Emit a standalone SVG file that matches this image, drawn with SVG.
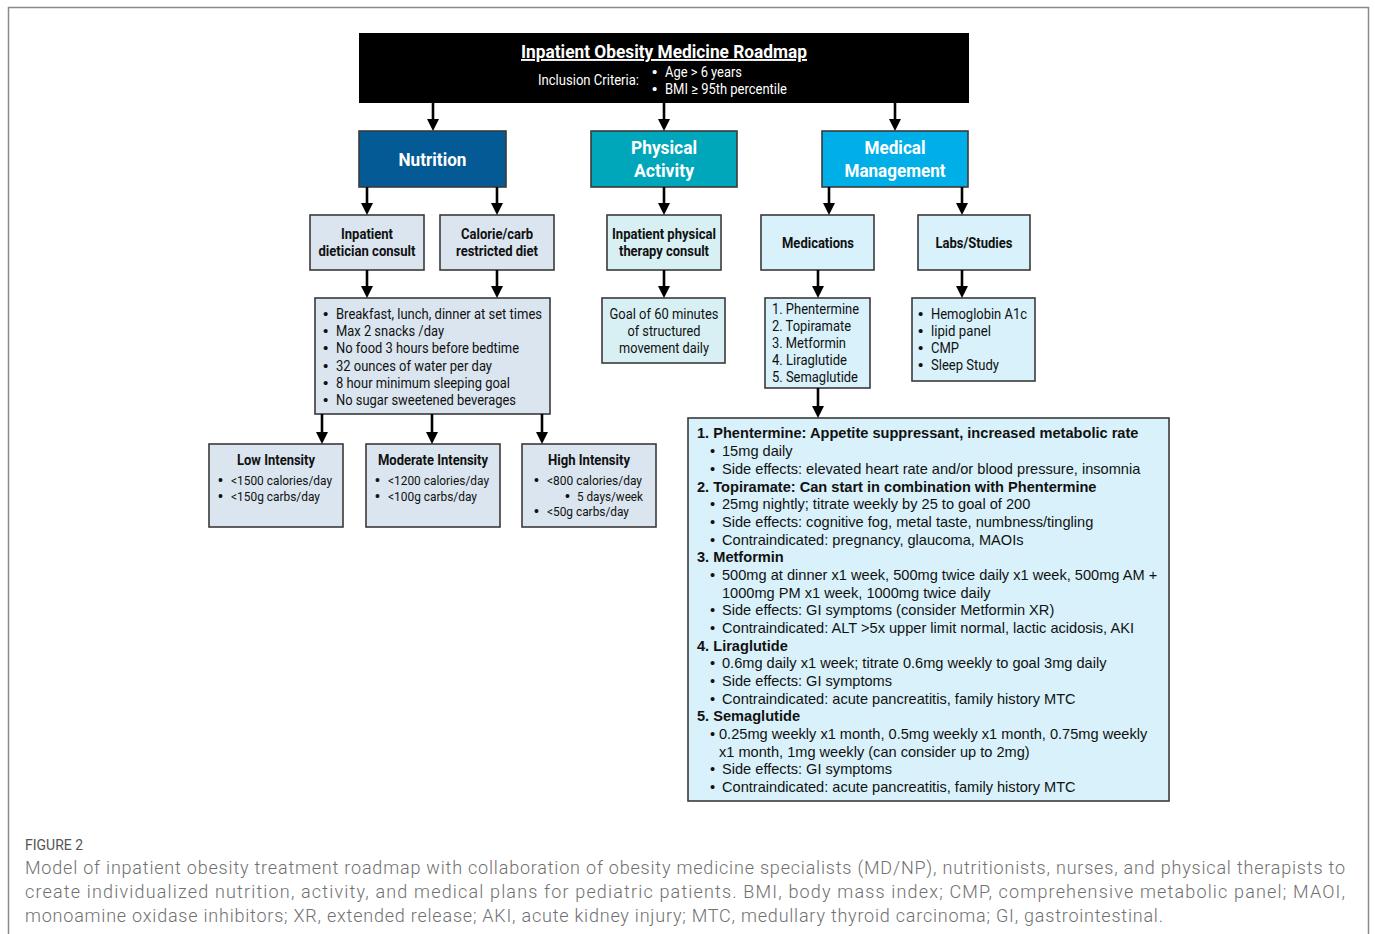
<svg xmlns="http://www.w3.org/2000/svg" width="1375" height="934" viewBox="0 0 1375 934">
<defs>
<marker id="ah" viewBox="0 0 12 12" refX="2" refY="6" markerWidth="12" markerHeight="12" markerUnits="userSpaceOnUse" orient="auto">
<path d="M0,0 L12,6 L0,12 z" fill="#000"/>
</marker>
<style>
.box{stroke:#3a3a3a;stroke-width:1.6}
.nut{fill:#dae5ef}
.phy{fill:#d8f0f4}
.med{fill:#d8f1fa}
.rc{font-family:Roboto,"Liberation Sans",sans-serif;font-size:14.5px;fill:#111}
.rb{font-family:Roboto,"Liberation Sans",sans-serif;font-size:14.5px;font-weight:bold;fill:#111}
.bl{font-family:"Liberation Sans",Arial,sans-serif;font-size:15px;fill:#111}
.hd{font-family:Roboto,"Liberation Sans",sans-serif;font-size:19px;font-weight:bold;fill:#fff}
.ar{font-family:"Liberation Sans",Arial,sans-serif;font-size:14.6px;fill:#111}
.arb{font-family:"Liberation Sans",Arial,sans-serif;font-size:14.6px;font-weight:bold;fill:#111}
.cap{font-family:Roboto,"Open Sans",sans-serif;font-size:18px;font-weight:300;fill:#707070}
.conn line{stroke:#000;stroke-width:2.6;marker-end:url(#ah)}
</style>
</defs>
<rect x="8.5" y="7.5" width="1360" height="950" fill="#fff" stroke="#8a8a8a" stroke-width="1.5"/>

<g id="title">
<rect x="359" y="33" width="610" height="70" fill="#000"/>
<text x="664" y="58" text-anchor="middle" class="hd" text-decoration="underline" textLength="286" lengthAdjust="spacingAndGlyphs">Inpatient Obesity Medicine Roadmap</text>
<text x="538" y="85" class="rc" style="fill:#fff" textLength="101" lengthAdjust="spacingAndGlyphs">Inclusion Criteria:</text>
<text x="652" y="77" class="bl" style="fill:#fff">•</text>
<text x="665" y="77" class="rc" style="fill:#fff" textLength="77" lengthAdjust="spacingAndGlyphs">Age &gt; 6 years</text>
<text x="652" y="94" class="bl" style="fill:#fff">•</text>
<text x="665" y="94" class="rc" style="fill:#fff" textLength="122" lengthAdjust="spacingAndGlyphs">BMI ≥ 95th percentile</text>
</g>

<g id="nutrition">
<rect x="359" y="131" width="147" height="56" fill="#035a95" class="box"/>
<text x="432.5" y="166" text-anchor="middle" class="hd" style="font-size:18.5px" textLength="68" lengthAdjust="spacingAndGlyphs">Nutrition</text>
</g>
<g id="physical-activity">
<rect x="591" y="131" width="146" height="56" fill="#00a6ba" class="box"/>
<text x="664" y="154" text-anchor="middle" class="hd" style="font-size:18.5px" textLength="66" lengthAdjust="spacingAndGlyphs">Physical</text>
<text x="664" y="177" text-anchor="middle" class="hd" style="font-size:18.5px" textLength="60" lengthAdjust="spacingAndGlyphs">Activity</text>
</g>
<g id="medical-management">
<rect x="822" y="131" width="146" height="56" fill="#00afe7" class="box"/>
<text x="895" y="154" text-anchor="middle" class="hd" style="font-size:18.5px" textLength="61" lengthAdjust="spacingAndGlyphs">Medical</text>
<text x="895" y="177" text-anchor="middle" class="hd" style="font-size:18.5px" textLength="101" lengthAdjust="spacingAndGlyphs">Management</text>
</g>

<g id="dietician">
<rect x="310" y="215" width="114" height="55" class="box nut"/>
<text x="367" y="239" text-anchor="middle" class="rb" textLength="52" lengthAdjust="spacingAndGlyphs">Inpatient</text>
<text x="367" y="256" text-anchor="middle" class="rb" textLength="97" lengthAdjust="spacingAndGlyphs">dietician consult</text>
</g>
<g id="restricted-diet">
<rect x="440" y="215" width="114" height="55" class="box nut"/>
<text x="497" y="239" text-anchor="middle" class="rb" textLength="72" lengthAdjust="spacingAndGlyphs">Calorie/carb</text>
<text x="497" y="256" text-anchor="middle" class="rb" textLength="82" lengthAdjust="spacingAndGlyphs">restricted diet</text>
</g>
<g id="pt-consult">
<rect x="607" y="215" width="114" height="55" class="box phy"/>
<text x="664" y="239" text-anchor="middle" class="rb" textLength="104" lengthAdjust="spacingAndGlyphs">Inpatient physical</text>
<text x="664" y="256" text-anchor="middle" class="rb" textLength="90" lengthAdjust="spacingAndGlyphs">therapy consult</text>
</g>
<g id="medications">
<rect x="761" y="215" width="113" height="55" class="box med"/>
<text x="818" y="248" text-anchor="middle" class="rb" textLength="72" lengthAdjust="spacingAndGlyphs">Medications</text>
</g>
<g id="labs">
<rect x="918" y="215" width="112" height="55" class="box med"/>
<text x="974" y="248" text-anchor="middle" class="rb" textLength="77" lengthAdjust="spacingAndGlyphs">Labs/Studies</text>
</g>

<g id="nutrition-list">
<rect x="315" y="298" width="235" height="116" class="box nut"/>
<g class="rc">
<text x="323" y="319" class="bl">•</text><text x="336" y="319" textLength="206" lengthAdjust="spacingAndGlyphs">Breakfast, lunch, dinner at set times</text>
<text x="323" y="336" class="bl">•</text><text x="336" y="336" textLength="108" lengthAdjust="spacingAndGlyphs">Max 2 snacks /day</text>
<text x="323" y="353" class="bl">•</text><text x="336" y="353" textLength="183" lengthAdjust="spacingAndGlyphs">No food 3 hours before bedtime</text>
<text x="323" y="371" class="bl">•</text><text x="336" y="371" textLength="156" lengthAdjust="spacingAndGlyphs">32 ounces of water per day</text>
<text x="323" y="388" class="bl">•</text><text x="336" y="388" textLength="174" lengthAdjust="spacingAndGlyphs">8 hour minimum sleeping goal</text>
<text x="323" y="405" class="bl">•</text><text x="336" y="405" textLength="180" lengthAdjust="spacingAndGlyphs">No sugar sweetened beverages</text>
</g>
</g>
<g id="movement-goal">
<rect x="602" y="298" width="123" height="65" class="box phy"/>
<g class="rc" text-anchor="middle">
<text x="664" y="319" textLength="109" lengthAdjust="spacingAndGlyphs">Goal of 60 minutes</text>
<text x="664" y="336" textLength="73" lengthAdjust="spacingAndGlyphs">of structured</text>
<text x="664" y="353" textLength="90" lengthAdjust="spacingAndGlyphs">movement daily</text>
</g>
</g>
<g id="medication-list">
<rect x="765" y="298" width="105" height="90" class="box med"/>
<g class="rc">
<text x="772" y="314" textLength="87" lengthAdjust="spacingAndGlyphs">1. Phentermine</text>
<text x="772" y="331" textLength="79" lengthAdjust="spacingAndGlyphs">2. Topiramate</text>
<text x="772" y="348" textLength="74" lengthAdjust="spacingAndGlyphs">3. Metformin</text>
<text x="772" y="365" textLength="75" lengthAdjust="spacingAndGlyphs">4. Liraglutide</text>
<text x="772" y="382" textLength="86" lengthAdjust="spacingAndGlyphs">5. Semaglutide</text>
</g>
</g>
<g id="labs-list">
<rect x="912" y="298" width="123" height="83" class="box med"/>
<g class="rc">
<text x="918" y="319" class="bl">•</text><text x="931" y="319" textLength="96" lengthAdjust="spacingAndGlyphs">Hemoglobin A1c</text>
<text x="918" y="336" class="bl">•</text><text x="931" y="336" textLength="60" lengthAdjust="spacingAndGlyphs">lipid panel</text>
<text x="918" y="353" class="bl">•</text><text x="931" y="353" textLength="28" lengthAdjust="spacingAndGlyphs">CMP</text>
<text x="918" y="370" class="bl">•</text><text x="931" y="370" textLength="68" lengthAdjust="spacingAndGlyphs">Sleep Study</text>
</g>
</g>

<g id="low-intensity">
<rect x="209" y="444" width="134" height="83" class="box nut"/>
<text x="276" y="465" text-anchor="middle" class="rb" textLength="78" lengthAdjust="spacingAndGlyphs">Low Intensity</text>
<g class="rc" style="font-size:13.5px">
<text x="218" y="485" class="bl" style="font-size:14px">•</text><text x="231" y="485" textLength="101" lengthAdjust="spacingAndGlyphs">&lt;1500 calories/day</text>
<text x="218" y="501" class="bl" style="font-size:14px">•</text><text x="231" y="501" textLength="89" lengthAdjust="spacingAndGlyphs">&lt;150g carbs/day</text>
</g>
</g>
<g id="moderate-intensity">
<rect x="366" y="444" width="134" height="83" class="box nut"/>
<text x="433" y="465" text-anchor="middle" class="rb" textLength="110" lengthAdjust="spacingAndGlyphs">Moderate Intensity</text>
<g class="rc" style="font-size:13.5px">
<text x="375" y="485" class="bl" style="font-size:14px">•</text><text x="388" y="485" textLength="101" lengthAdjust="spacingAndGlyphs">&lt;1200 calories/day</text>
<text x="375" y="501" class="bl" style="font-size:14px">•</text><text x="388" y="501" textLength="89" lengthAdjust="spacingAndGlyphs">&lt;100g carbs/day</text>
</g>
</g>
<g id="high-intensity">
<rect x="522" y="444" width="134" height="83" class="box nut"/>
<text x="589" y="465" text-anchor="middle" class="rb" textLength="82" lengthAdjust="spacingAndGlyphs">High Intensity</text>
<g class="rc" style="font-size:13.5px">
<text x="534" y="485" class="bl" style="font-size:14px">•</text><text x="547" y="485" textLength="95" lengthAdjust="spacingAndGlyphs">&lt;800 calories/day</text>
<text x="565" y="501" class="bl" style="font-size:14px">•</text><text x="577" y="501" textLength="66" lengthAdjust="spacingAndGlyphs">5 days/week</text>
<text x="534" y="516" class="bl" style="font-size:14px">•</text><text x="547" y="516" textLength="82" lengthAdjust="spacingAndGlyphs">&lt;50g carbs/day</text>
</g>
</g>

<g id="medication-details">
<rect x="688" y="418" width="481" height="383" class="box med"/>
<text x="697" y="438" class="arb">1. Phentermine: Appetite suppressant, increased metabolic rate</text>
<text x="710" y="456" class="ar">•</text><text x="722" y="456" class="ar">15mg daily</text>
<text x="710" y="474" class="ar">•</text><text x="722" y="474" class="ar">Side effects: elevated heart rate and/or blood pressure, insomnia</text>
<text x="697" y="492" class="arb">2. Topiramate: Can start in combination with Phentermine</text>
<text x="710" y="509" class="ar">•</text><text x="722" y="509" class="ar">25mg nightly; titrate weekly by 25 to goal of 200</text>
<text x="710" y="527" class="ar">•</text><text x="722" y="527" class="ar">Side effects: cognitive fog, metal taste, numbness/tingling</text>
<text x="710" y="545" class="ar">•</text><text x="722" y="545" class="ar">Contraindicated: pregnancy, glaucoma, MAOIs</text>
<text x="697" y="562" class="arb">3. Metformin</text>
<text x="710" y="580" class="ar">•</text><text x="722" y="580" class="ar">500mg at dinner x1 week, 500mg twice daily x1 week, 500mg AM +</text>
<text x="722" y="598" class="ar">1000mg PM x1 week, 1000mg twice daily</text>
<text x="710" y="615" class="ar">•</text><text x="722" y="615" class="ar">Side effects: GI symptoms (consider Metformin XR)</text>
<text x="710" y="633" class="ar">•</text><text x="722" y="633" class="ar">Contraindicated: ALT &gt;5x upper limit normal, lactic acidosis, AKI</text>
<text x="697" y="651" class="arb">4. Liraglutide</text>
<text x="710" y="668" class="ar">•</text><text x="722" y="668" class="ar">0.6mg daily x1 week; titrate 0.6mg weekly to goal 3mg daily</text>
<text x="710" y="686" class="ar">•</text><text x="722" y="686" class="ar">Side effects: GI symptoms</text>
<text x="710" y="704" class="ar">•</text><text x="722" y="704" class="ar">Contraindicated: acute pancreatitis, family history MTC</text>
<text x="697" y="721" class="arb">5. Semaglutide</text>
<text x="710" y="739" class="ar">•</text><text x="719" y="739" class="ar">0.25mg weekly x1 month, 0.5mg weekly x1 month, 0.75mg weekly</text>
<text x="719" y="757" class="ar">x1 month, 1mg weekly (can consider up to 2mg)</text>
<text x="710" y="774" class="ar">•</text><text x="722" y="774" class="ar">Side effects: GI symptoms</text>
<text x="710" y="792" class="ar">•</text><text x="722" y="792" class="ar">Contraindicated: acute pancreatitis, family history MTC</text>
</g>

<g id="connectors" class="conn">
<line x1="433" y1="103" x2="433" y2="121"/>
<line x1="664" y1="103" x2="664" y2="121"/>
<line x1="895" y1="103" x2="895" y2="121"/>
<line x1="367" y1="187" x2="367" y2="205"/>
<line x1="497" y1="187" x2="497" y2="205"/>
<line x1="664" y1="187" x2="664" y2="205"/>
<line x1="829" y1="187" x2="829" y2="205"/>
<line x1="962" y1="187" x2="962" y2="205"/>
<line x1="367" y1="270" x2="367" y2="288"/>
<line x1="497" y1="270" x2="497" y2="288"/>
<line x1="664" y1="270" x2="664" y2="288"/>
<line x1="818" y1="270" x2="818" y2="288"/>
<line x1="962" y1="270" x2="962" y2="288"/>
<line x1="322" y1="414" x2="322" y2="434"/>
<line x1="432" y1="414" x2="432" y2="434"/>
<line x1="542" y1="414" x2="542" y2="434"/>
<line x1="818" y1="388" x2="818" y2="408"/>
</g>

<g id="caption">
<text x="25" y="850" class="cap" style="font-size:14px;font-weight:normal;fill:#555">FIGURE 2</text>
<text x="25" y="874" class="cap" textLength="1320" lengthAdjust="spacing">Model of inpatient obesity treatment roadmap with collaboration of obesity medicine specialists (MD/NP), nutritionists, nurses, and physical therapists to</text>
<text x="25" y="898" class="cap" textLength="1320" lengthAdjust="spacing">create individualized nutrition, activity, and medical plans for pediatric patients. BMI, body mass index; CMP, comprehensive metabolic panel; MAOI,</text>
<text x="25" y="922" class="cap" textLength="1138" lengthAdjust="spacing">monoamine oxidase inhibitors; XR, extended release; AKI, acute kidney injury; MTC, medullary thyroid carcinoma; GI, gastrointestinal.</text>
</g>
</svg>
